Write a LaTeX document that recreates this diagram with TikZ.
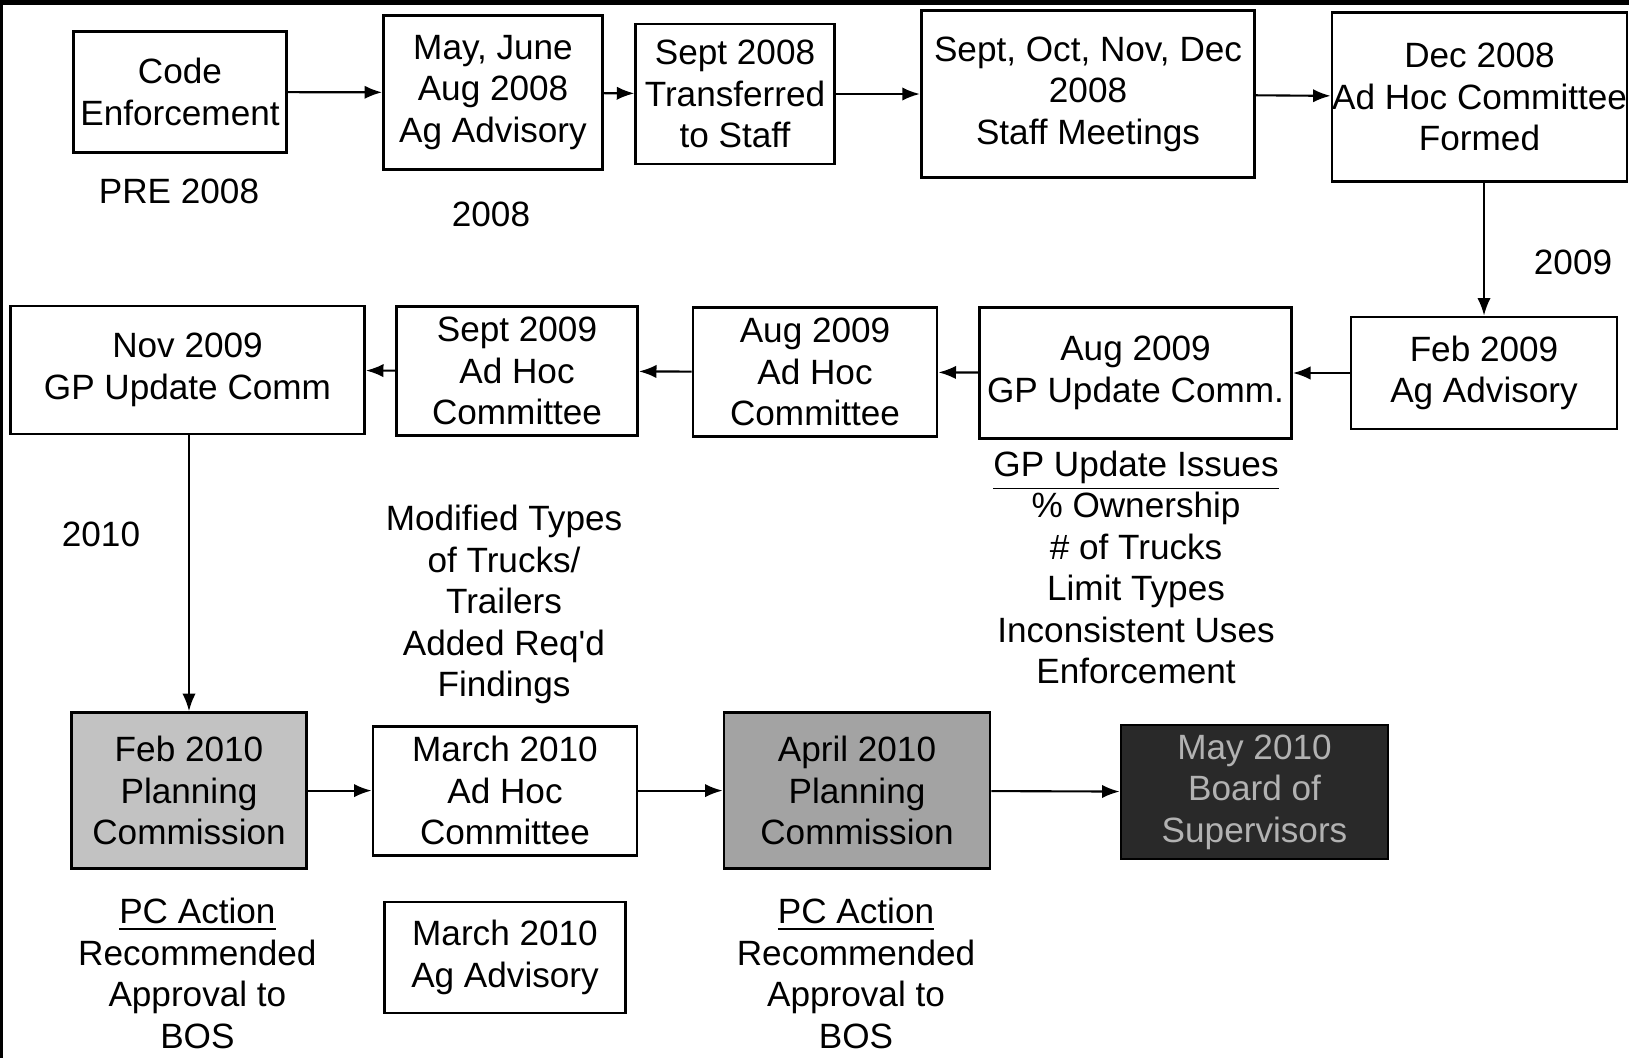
\documentclass[tikz,border=0pt]{standalone}
\usepackage{fontspec}
\setmainfont{Liberation Sans}
\usetikzlibrary{arrows.meta}
\definecolor{pclight}{gray}{0.76}
\definecolor{pcdark}{gray}{0.64}
\definecolor{bosfill}{gray}{0.16}
\definecolor{bostext}{gray}{0.70}
\begin{document}
\begin{tikzpicture}[
	box/.style={draw,line width=0.8pt,align=center,inner sep=0pt,font=\fontsize{10}{11.8}\selectfont},
	note/.style={align=center,inner sep=0pt,font=\fontsize{10}{11.8}\selectfont},
	flow/.style={line width=0.6pt,-{Latex[length=5pt,width=3.8pt]}}]
	\useasboundingbox (0,0) rectangle (16.29,10.58);
	\fill (0,10.53) rectangle (16.29,10.58);
	\fill (0,0) rectangle (0.03,10.58);

	\node[box,minimum width=2.13cm,minimum height=1.215cm] (code) at (1.80,9.66) {Code\\Enforcement};
	\node[box,minimum width=2.19cm,minimum height=1.54cm] (agadv08) at (4.93,9.655) {May, June\\Aug 2008\\Ag Advisory};
	\node[box,minimum width=1.985cm,minimum height=1.40cm] (staff) at (7.35,9.64) {Sept 2008\\Transferred\\to Staff};
	\node[box,minimum width=3.335cm,minimum height=1.67cm] (meet) at (10.88,9.64) {Sept, Oct, Nov, Dec\\2008\\Staff Meetings};
	\node[box,minimum width=2.95cm,minimum height=1.69cm] (adhoc08) at (14.795,9.61) {Dec 2008\\Ad Hoc Committee\\Formed};

	\node[note] (pre) at (1.79,8.67) {PRE 2008};
	\node[note] (y08) at (4.91,8.44) {2008};
	\node[note] (y09) at (15.73,7.96) {2009};

	\node[box,minimum width=2.66cm,minimum height=1.12cm] (agadv09) at (14.84,6.85) {Feb 2009\\Ag Advisory};
	\node[box,minimum width=3.12cm,minimum height=1.31cm] (gpaug) at (11.355,6.85) {Aug 2009\\GP Update Comm.};
	\node[box,minimum width=2.44cm,minimum height=1.29cm] (adhocaug) at (8.15,6.86) {Aug 2009\\Ad Hoc\\Committee};
	\node[box,minimum width=2.41cm,minimum height=1.29cm] (adhocsep) at (5.17,6.87) {Sept 2009\\Ad Hoc\\Committee};
	\node[box,minimum width=3.54cm,minimum height=1.28cm] (gpnov) at (1.875,6.88) {Nov 2009\\GP Update Comm};

	\node[note] (issues) at (11.36,4.907) {\underline{GP Update Issues}\\\% Ownership\\\# of Trucks\\Limit Types\\Inconsistent Uses\\Enforcement};
	\node[note] (trucks) at (5.04,4.533) {Modified Types\\of Trucks/\\Trailers\\Added Req\textquotesingle d\\Findings};
	\node[note] (y10) at (1.01,5.24) {2010};

	\node[box,fill=pclight,minimum width=2.35cm,minimum height=1.56cm] (pcfeb) at (1.89,2.674) {Feb 2010\\Planning\\Commission};
	\node[box,minimum width=2.64cm,minimum height=1.29cm] (adhocmar) at (5.05,2.674) {March 2010\\Ad Hoc\\Committee};
	\node[box,fill=pcdark,minimum width=2.66cm,minimum height=1.56cm] (pcapr) at (8.57,2.674) {April 2010\\Planning\\Commission};
	\node[box,fill=bosfill,text=bostext,minimum width=2.67cm,minimum height=1.34cm] (bos) at (12.545,2.66) {May 2010\\Board of\\Supervisors};
	\node[box,minimum width=2.41cm,minimum height=1.11cm] (agadvmar) at (5.05,1.006) {March 2010\\Ag Advisory};

	\node[note] (pcact1) at (1.974,0.845) {\underline{PC Action}\\Recommended\\Approval to\\BOS};
	\node[note] (pcact2) at (8.56,0.845) {\underline{PC Action}\\Recommended\\Approval to\\BOS};

	\draw[flow] (code) -- (agadv08);
	\draw[flow] (agadv08) -- (staff);
	\draw[flow] (staff) -- (meet);
	\draw[flow] (meet) -- (adhoc08);
	\draw[flow] (agadv09.north |- adhoc08.south) -- (agadv09.north);
	\draw[flow] (agadv09) -- (gpaug);
	\draw[flow] (gpaug) -- (adhocaug);
	\draw[flow] (adhocaug) -- (adhocsep);
	\draw[flow] (adhocsep) -- (gpnov);
	\draw[flow] (pcfeb.north |- gpnov.south) -- (pcfeb.north);
	\draw[flow] (pcfeb) -- (adhocmar);
	\draw[flow] (adhocmar) -- (pcapr);
	\draw[flow] (pcapr) -- (bos);
\end{tikzpicture}
\end{document}
